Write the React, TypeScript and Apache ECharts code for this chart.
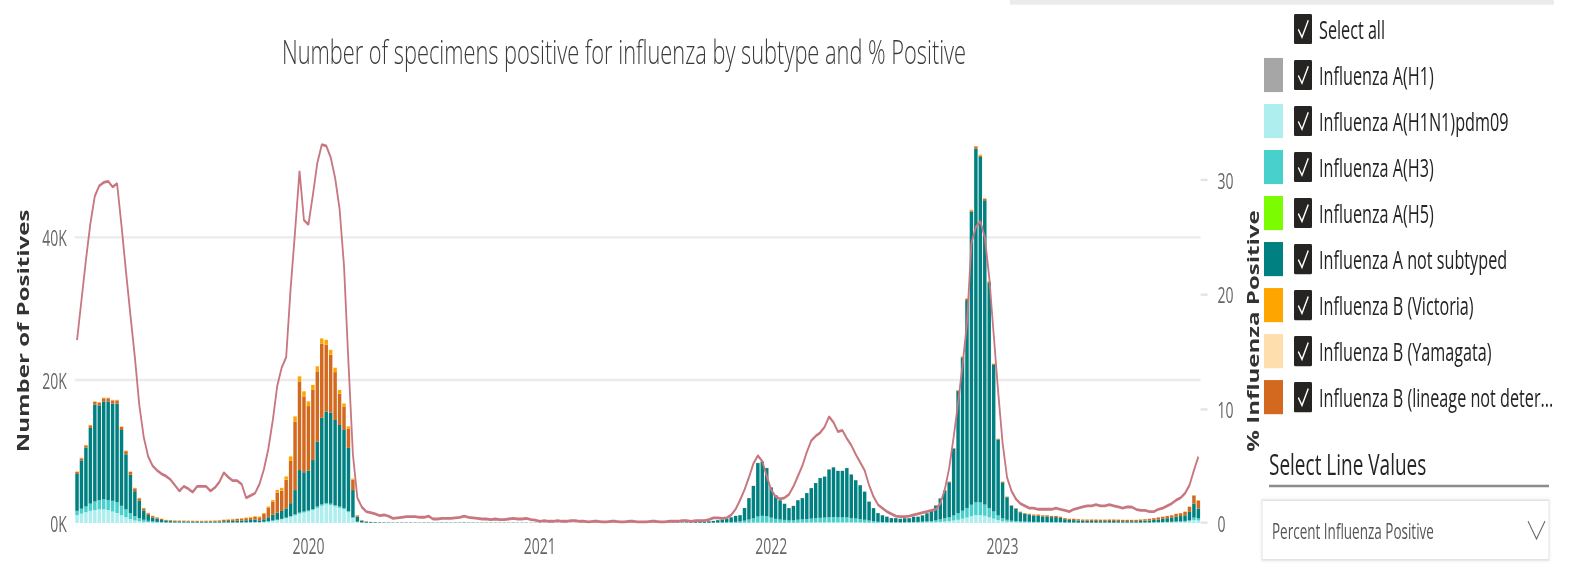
import React, { useEffect, useRef } from 'react';
import * as echarts from 'echarts';

// ---------------- data (thousands of positive specimens per week; line = % positive) ----------------
const FIRST_WEEK_UTC = Date.UTC(2019, 0, 5); // week ending 2019-01-05

const h1: number[] = [
  0,0,0,0,0,0,0,0,0,0, 0,0,0,0,0,0,0,0,0,0, 0,0,0,0,0,0,0,0,0,0, 0,0,0,0,0,0,0,0,0,0,
  0,0,0,0,0,0,0,0,0,0, 0,0,0,0,0,0,0,0,0,0, 0,0,0,0,0,0,0,0,0,0, 0,0,0,0,0,0,0,0,0,0,
  0,0,0,0,0,0,0,0,0,0, 0,0,0,0,0,0,0,0,0,0, 0,0,0,0,0,0,0,0,0,0, 0,0,0,0,0,0,0,0,0,0,
  0,0,0,0,0,0,0,0,0,0, 0,0,0,0,0,0,0,0,0,0, 0,0,0,0,0,0,0,0,0,0, 0,0,0,0,0,0,0,0,0,0,
  0,0,0,0,0,0,0,0,0,0, 0,0,0,0,0,0,0,0,0,0, 0,0,0,0,0,0,0,0,0,0, 0,0,0,0,0,0,0,0,0,0,
  0,0,0,0,0,0,0,0,0,0, 0,0,0,0,0,0,0,0,0,0, 0,0,0,0,0,0,0,0,0,0, 0,0,0,0,0,0,0,0,0,0,
  0,0,0,0,0,0,0,0,0,0, 0,0,0
];

const h1n1pdm09: number[] = [
  1.1,1.3,1.5,1.7,1.8,1.9,1.9,1.8,1.6,1.4,
  1.1,0.8,0.55,0.35,0.25,0.15,0.1,0.07,0.05,0.04,
  0.03,0.03,0.02,0.02,0.02,0.02,0.02,0.02,0.02,0.02,
  0.02,0.02,0.02,0.03,0.03,0.03,0.03,0.04,0.04,0.05,
  0.06,0.08,0.12,0.18,0.28,0.38,0.5,0.65,0.85,1.05,
  1.3,1.45,1.6,1.8,2.1,2.4,2.6,2.5,2.3,2.1,
  1.9,1.5,0.7,0.15,0.05,0.03,0.02,0.01,0.01,0.01,
  0.01,0.005,0.005,0.005,0.005,0,0,0,0,0,
  0,0,0,0,0,0,0,0,0,0,
  0,0,0,0,0,0,0,0,0,0,
  0,0,0,0,0,0,0,0,0,0,
  0,0,0,0,0,0,0,0,0,0,
  0,0,0,0,0,0,0,0,0,0,
  0,0,0,0,0,0,0,0,0,0,
  0,0.005,0.005,0.005,0.01,0.01,0.01,0.01,0.01,0.01,
  0.02,0.03,0.04,0.05,0.05,0.05,0.04,0.03,0.03,0.03,
  0.03,0.03,0.04,0.05,0.05,0.06,0.06,0.07,0.07,0.08,
  0.08,0.08,0.08,0.08,0.08,0.07,0.06,0.05,0.04,0.03,
  0.02,0.02,0.02,0.02,0.02,0.02,0.04,0.04,0.05,0.05,
  0.06,0.07,0.09,0.12,0.15,0.2,0.25,0.35,0.45,0.6,
  0.75,0.95,1.1,1.1,1.0,0.8,0.6,0.4,0.25,0.17,
  0.12,0.1,0.08,0.07,0.06,0.05,0.05,0.05,0.05,0.04,
  0.04,0.04,0.03,0.03,0.03,0.02,0.02,0.02,0.02,0.02,
  0.02,0.02,0.02,0.02,0.02,0.02,0.02,0.02,0.02,0.02,
  0.03,0.03,0.04,0.05,0.06,0.07,0.08,0.1,0.12,0.15,
  0.22,0.4,0.35
];

const h3: number[] = [
  0.6,0.7,0.8,1.0,1.2,1.3,1.4,1.4,1.5,1.5,
  1.3,1.1,0.85,0.6,0.45,0.3,0.2,0.15,0.1,0.08,
  0.05,0.04,0.04,0.04,0.04,0.04,0.03,0.03,0.03,0.03,
  0.03,0.03,0.03,0.04,0.04,0.04,0.05,0.05,0.06,0.07,
  0.08,0.04,0.05,0.06,0.07,0.08,0.08,0.1,0.12,0.15,
  0.15,0.15,0.15,0.15,0.2,0.2,0.2,0.2,0.2,0.2,
  0.2,0.15,0.1,0.03,0.02,0.01,0.01,0.01,0.005,0.005,
  0,0,0,0,0,0,0,0,0,0,
  0,0,0,0,0,0,0,0,0,0,
  0,0,0,0,0,0,0,0,0,0,
  0,0,0,0,0,0,0,0,0,0,
  0,0,0,0,0,0,0,0,0,0,
  0,0,0,0,0,0,0,0,0,0,
  0,0,0,0,0,0.005,0.005,0.01,0.01,0.01,
  0.015,0.02,0.03,0.04,0.05,0.07,0.09,0.12,0.15,0.2,
  0.3,0.45,0.6,0.85,0.95,0.9,0.7,0.55,0.45,0.4,
  0.32,0.35,0.42,0.45,0.5,0.55,0.6,0.65,0.68,0.72,
  0.75,0.72,0.7,0.7,0.62,0.55,0.48,0.4,0.3,0.22,
  0.15,0.12,0.1,0.08,0.08,0.07,0.06,0.07,0.09,0.1,
  0.12,0.15,0.18,0.25,0.35,0.45,0.55,0.7,0.9,1.1,
  1.35,1.6,1.75,1.75,1.6,1.3,1.0,0.65,0.4,0.28,
  0.2,0.17,0.13,0.12,0.11,0.1,0.1,0.09,0.09,0.08,
  0.08,0.07,0.05,0.04,0.04,0.03,0.03,0.03,0.03,0.03,
  0.03,0.03,0.03,0.03,0.03,0.03,0.03,0.03,0.03,0.03,
  0.04,0.04,0.05,0.06,0.07,0.08,0.09,0.11,0.12,0.14,
  0.2,0.35,0.3
];

const h5: number[] = [
  0,0,0,0,0,0,0,0,0,0, 0,0,0,0,0,0,0,0,0,0, 0,0,0,0,0,0,0,0,0,0, 0,0,0,0,0,0,0,0,0,0,
  0,0,0,0,0,0,0,0,0,0, 0,0,0,0,0,0,0,0,0,0, 0,0,0,0,0,0,0,0,0,0, 0,0,0,0,0,0,0,0,0,0,
  0,0,0,0,0,0,0,0,0,0, 0,0,0,0,0,0,0,0,0,0, 0,0,0,0,0,0,0,0,0,0, 0,0,0,0,0,0,0,0,0,0,
  0,0,0,0,0,0,0,0,0,0, 0,0,0,0,0,0,0,0,0,0, 0,0,0,0,0,0,0,0,0,0, 0,0,0,0,0,0,0,0,0,0,
  0,0,0,0,0,0,0,0,0,0, 0,0,0,0,0,0,0,0,0,0, 0,0,0,0,0,0,0,0,0,0, 0,0,0,0,0,0,0,0,0,0,
  0,0,0,0,0,0,0,0,0,0, 0,0,0,0,0,0,0,0,0,0, 0,0,0,0,0,0,0,0,0,0, 0,0,0,0,0,0,0,0,0,0,
  0,0,0,0,0,0,0,0,0,0, 0,0,0
];

const aNotSubtyped: number[] = [
  5.15,6.75,8.25,10.6,13.55,13.25,13.7,13.8,13.6,13.8,
  10.6,7.7,5.35,3.5,2.4,1.3,0.81,0.55,0.44,0.3,
  0.22,0.2,0.18,0.17,0.16,0.15,0.15,0.14,0.14,0.14,
  0.14,0.15,0.16,0.18,0.2,0.22,0.24,0.26,0.28,0.3,
  0.33,0.25,0.35,0.56,0.8,1.0,1.1,1.3,1.8,3.4,
  5.95,5.5,5.6,6.85,9.1,12.1,12.8,12.7,11.9,11.4,
  10.9,8.85,3.8,0.7,0.25,0.15,0.1,0.08,0.07,0.06,
  0.06,0.05,0.05,0.05,0.05,0.05,0.05,0.04,0.05,0.05,
  0.04,0.04,0.05,0.05,0.04,0.05,0.05,0.06,0.05,0.05,
  0.04,0.04,0.04,0.04,0.04,0.04,0.04,0.04,0.05,0.04,
  0.04,0.04,0.03,0.03,0.03,0.03,0.03,0.03,0.03,0.03,
  0.03,0.03,0.03,0.03,0.03,0.03,0.03,0.03,0.03,0.03,
  0.03,0.03,0.03,0.03,0.04,0.04,0.04,0.04,0.04,0.05,
  0.05,0.05,0.05,0.06,0.06,0.07,0.07,0.08,0.09,0.1,
  0.11,0.165,0.205,0.245,0.33,0.41,0.49,0.66,0.83,0.88,
  1.77,3.0,4.54,7.48,7.58,6.73,4.24,3.3,2.7,2.25,
  1.73,2.0,2.72,2.98,3.63,4.27,4.92,5.56,5.73,6.68,
  6.95,6.48,6.5,6.9,6.08,5.36,4.74,3.93,2.64,1.83,
  1.21,0.94,0.76,0.58,0.58,0.49,0.57,0.56,0.73,0.72,
  0.88,1.14,1.47,2.06,2.92,3.86,4.9,9.33,17.09,21.41,
  29.07,40.97,49.53,48.33,42.52,31.47,20.52,10.6,5.03,3.15,
  2.08,1.73,1.29,1.1,1.01,0.87,0.87,0.78,0.78,0.7,
  0.7,0.61,0.45,0.36,0.33,0.3,0.25,0.25,0.23,0.23,
  0.21,0.21,0.23,0.23,0.21,0.2,0.2,0.2,0.2,0.23,
  0.26,0.29,0.34,0.39,0.44,0.52,0.55,0.66,0.73,0.78,
  1.13,1.97,1.38
];

const bVictoria: number[] = [
  0.05,0.05,0.05,0.05,0.05,0.05,0.05,0.05,0.05,0.05,
  0.05,0.05,0.05,0.05,0.05,0.05,0.04,0.03,0.03,0.03,
  0.02,0.02,0.02,0.02,0.02,0.02,0.02,0.02,0.02,0.02,
  0.02,0.03,0.03,0.04,0.04,0.05,0.05,0.06,0.07,0.08,
  0.1,0.1,0.13,0.2,0.25,0.34,0.37,0.45,0.63,0.7,
  0.7,0.7,0.65,0.7,0.7,0.7,0.7,0.7,0.6,0.5,
  0.4,0.3,0.15,0.05,0.02,0.01,0.01,0.005,0,0,
  0,0,0,0,0,0,0,0,0,0,
  0,0,0,0,0,0,0,0,0,0,
  0,0,0,0,0,0,0,0,0,0,
  0,0,0,0,0,0,0,0,0,0,
  0,0,0,0,0,0,0,0,0,0,
  0,0,0,0,0,0,0,0,0,0,
  0,0,0,0,0,0,0,0,0,0,
  0,0,0,0,0,0,0,0,0,0,
  0,0,0,0,0,0,0,0,0,0,
  0,0,0,0,0,0,0,0,0,0,
  0,0,0,0,0,0,0,0,0,0,
  0,0,0,0,0,0,0.01,0.01,0.01,0.01,
  0.01,0.01,0.02,0.02,0.03,0.03,0.03,0.04,0.06,0.07,
  0.08,0.1,0.12,0.12,0.1,0.08,0.06,0.05,0.04,0.03,
  0.03,0.03,0.03,0.03,0.03,0.03,0.03,0.03,0.03,0.03,
  0.03,0.03,0.02,0.02,0.02,0.02,0.02,0.02,0.02,0.02,
  0.02,0.02,0.02,0.02,0.02,0.02,0.02,0.02,0.02,0.02,
  0.02,0.02,0.02,0.02,0.03,0.03,0.03,0.03,0.03,0.03,
  0.05,0.08,0.07
];

const bYamagata: number[] = [
  0.02,0.02,0.02,0.02,0.02,0.02,0.02,0.02,0.02,0.02,
  0.02,0.02,0.02,0.02,0.02,0.02,0.02,0.02,0.02,0.02,
  0.02,0.02,0.02,0.02,0.02,0.02,0.02,0.02,0.02,0.02,
  0.02,0.02,0.02,0.02,0.02,0.02,0.02,0.02,0.02,0.02,
  0.02,0.01,0.01,0.01,0.01,0.01,0.01,0.01,0.01,0.01,
  0.01,0.01,0.01,0.01,0.01,0.01,0.01,0.01,0.01,0.01,
  0.01,0.01,0.01,0,0,0,0,0,0,0,
  0,0,0,0,0,0,0,0,0,0, 0,0,0,0,0,0,0,0,0,0, 0,0,0,0,0,0,0,0,0,0,
  0,0,0,0,0,0,0,0,0,0, 0,0,0,0,0,0,0,0,0,0, 0,0,0,0,0,0,0,0,0,0,
  0,0,0,0,0,0,0,0,0,0, 0,0,0,0,0,0,0,0,0,0, 0,0,0,0,0,0,0,0,0,0,
  0,0,0,0,0,0,0,0,0,0, 0,0,0,0,0,0,0,0,0,0, 0,0,0,0,0,0,0,0,0,0,
  0,0,0,0,0,0,0,0,0,0, 0,0,0,0,0,0,0,0,0,0, 0,0,0,0,0,0,0,0,0,0,
  0,0,0,0,0,0,0,0,0,0, 0,0,0,0,0,0,0,0,0,0, 0,0,0,0,0,0,0,0,0,0,
  0,0,0
];

const bLineageNotDetermined: number[] = [
  0.3,0.3,0.3,0.35,0.4,0.4,0.45,0.45,0.45,0.45,
  0.45,0.45,0.4,0.4,0.35,0.3,0.25,0.2,0.18,0.15,
  0.12,0.12,0.1,0.1,0.1,0.1,0.1,0.1,0.1,0.11,
  0.12,0.13,0.15,0.18,0.2,0.22,0.24,0.27,0.3,0.33,
  0.38,0.43,0.75,1.3,1.8,2.8,2.85,4.0,5.9,9.6,
  12.4,10.6,9.0,9.8,9.8,10.4,9.3,8.1,6.7,4.4,
  3.3,2.7,1.45,0.17,0.06,0.03,0.02,0.02,0.02,0.01,
  0.01,0.01,0.01,0.01,0.01,0.01,0.01,0.01,0.01,0.01,
  0.01,0.01,0.01,0.01,0.01,0.01,0.01,0.01,0.01,0.01,
  0.01,0.01,0.01,0.01,0.01,0.01,0.01,0.01,0.01,0.01,
  0.01,0.01,0.01,0.01,0.01,0.01,0.01,0.01,0.01,0.01,
  0.01,0.01,0.01,0.01,0.01,0.01,0.01,0.01,0.01,0.01,
  0.01,0.01,0.01,0.01,0.01,0.01,0.01,0.01,0.01,0.01,
  0.01,0.01,0.01,0.01,0.01,0.01,0.01,0.01,0.01,0.01,
  0.01,0.01,0.01,0.01,0.01,0.01,0.01,0.01,0.01,0.01,
  0.01,0.02,0.02,0.02,0.02,0.02,0.02,0.02,0.02,0.02,
  0.02,0.02,0.02,0.02,0.02,0.02,0.02,0.02,0.02,0.02,
  0.02,0.02,0.02,0.02,0.02,0.02,0.02,0.02,0.02,0.02,
  0.02,0.02,0.02,0.02,0.02,0.02,0.02,0.02,0.02,0.02,
  0.03,0.03,0.04,0.05,0.05,0.06,0.07,0.08,0.1,0.12,
  0.15,0.18,0.2,0.2,0.18,0.15,0.12,0.1,0.08,0.07,
  0.07,0.07,0.07,0.08,0.09,0.15,0.15,0.15,0.15,0.15,
  0.15,0.15,0.15,0.15,0.18,0.18,0.18,0.18,0.2,0.2,
  0.2,0.2,0.2,0.2,0.2,0.18,0.18,0.18,0.18,0.2,
  0.2,0.22,0.25,0.28,0.3,0.3,0.35,0.4,0.4,0.5,
  0.7,1.1,1.1
];

const percentPositive: number[] = [
  16.0,19.5,23.0,26.2,28.6,29.5,29.8,29.9,29.4,29.7,
  26.0,22.0,18.2,14.5,10.3,7.5,5.8,5.0,4.6,4.3,
  4.1,3.8,3.3,2.8,3.2,3.0,2.7,3.2,3.2,3.2,
  2.8,3.1,3.6,4.4,4.0,3.7,3.7,3.4,2.2,2.4,
  2.6,3.4,4.7,6.5,9.0,12.0,13.6,14.5,20.5,25.5,
  30.8,26.5,26.1,28.7,31.5,33.1,33.0,32.0,30.2,27.5,
  22.5,14.0,6.0,2.2,1.4,1.0,0.9,0.8,0.65,0.7,
  0.6,0.4,0.45,0.5,0.55,0.55,0.55,0.5,0.5,0.6,
  0.35,0.35,0.4,0.4,0.4,0.45,0.5,0.6,0.5,0.45,
  0.4,0.35,0.35,0.3,0.35,0.3,0.3,0.35,0.4,0.35,
  0.35,0.4,0.3,0.25,0.15,0.2,0.15,0.15,0.2,0.15,
  0.15,0.2,0.2,0.15,0.15,0.1,0.15,0.15,0.1,0.1,
  0.15,0.15,0.1,0.1,0.15,0.15,0.1,0.1,0.1,0.15,
  0.15,0.1,0.1,0.15,0.15,0.15,0.2,0.2,0.15,0.2,
  0.2,0.2,0.3,0.45,0.45,0.4,0.45,0.7,1.2,2.0,
  2.9,4.0,5.2,5.9,5.4,4.1,2.9,2.3,2.1,2.2,
  2.5,3.2,4.1,5.0,6.2,7.2,7.6,7.9,8.4,9.3,
  8.8,8.0,8.1,7.4,6.8,6.0,5.3,4.6,3.3,2.3,
  1.6,1.3,1.0,0.8,0.6,0.55,0.55,0.6,0.7,0.8,
  0.9,1.0,1.1,1.2,1.7,2.9,4.8,7.5,10.5,13.8,
  17.5,24.5,25.9,26.4,25.0,21.5,16.5,11.5,7.0,4.0,
  2.8,2.1,1.7,1.5,1.3,1.3,1.2,1.2,1.2,1.2,
  1.3,1.2,1.1,1.0,1.2,1.3,1.4,1.5,1.5,1.6,
  1.5,1.5,1.6,1.5,1.4,1.3,1.4,1.4,1.2,1.1,
  1.1,1.0,1.0,1.2,1.3,1.5,1.7,2.0,2.2,2.6,
  3.3,4.6,5.8
];

const legendNames: string[] = [
  'Influenza A(H1)',
  'Influenza A(H1N1)pdm09',
  'Influenza A(H3)',
  'Influenza A(H5)',
  'Influenza A not subtyped',
  'Influenza B (Victoria)',
  'Influenza B (Yamagata)',
  'Influenza B (lineage not determined)',
];
const legendShown: string[] = [
  'Influenza A(H1)',
  'Influenza A(H1N1)pdm09',
  'Influenza A(H3)',
  'Influenza A(H5)',
  'Influenza A not subtyped',
  'Influenza B (Victoria)',
  'Influenza B (Yamagata)',
  'Influenza B (lineage not deter...',
];
const legendColors: string[] = ['#A6A6A6', '#AEEEEE', '#48D1CC', '#7CFC00', '#008080', '#FFA500', '#FFDEAD', '#D2691E'];
const legendData: number[][] = [h1, h1n1pdm09, h3, h5, aNotSubtyped, bVictoria, bYamagata, bLineageNotDetermined];
// stacking order seen in the picture (bottom -> top)
const stackOrder: number[] = [0, 1, 2, 3, 4, 7, 6, 5];

const TITLE = 'Number of specimens positive for influenza by subtype and % Positive';
const LINE_NAME = 'Percent Influenza Positive';

// ---------------- layout ----------------
const W = 1577;
const H_REAL = 563;
const H = 363; // logical height; the page is stretched vertically like the reference
const FONT = '"Open Sans", "Noto Sans", "DejaVu Sans", sans-serif';
const DAY = 86400000;

const weeks: string[] = percentPositive.map((_, i) => new Date(FIRST_WEEK_UTC + i * 7 * DAY).toISOString().slice(0, 10));
const yearLabelAt: string[] = weeks.map((w) => {
  const t = Date.parse(w + 'T00:00:00Z');
  const y = new Date(t).getUTCFullYear();
  for (const yy of [y, y + 1]) {
    if (Math.abs(t - Date.UTC(yy, 0, 1)) <= 3.5 * DAY) return String(yy);
  }
  return '';
});

function buildGraphics(): any[] {
  const g: any[] = [];
  const ink = '#252423';
  g.push({ type: 'rect', silent: true, shape: { x: 1010, y: 0, width: 544, height: 3 }, style: { fill: '#ebebeb' } });
  const rowY = (k: number) => 18.7 + 29.67 * k;
  const rows = ['Select all', ...legendShown];
  rows.forEach((label, k) => {
    const c = rowY(k);
    if (k > 0) {
      g.push({ type: 'rect', silent: true, shape: { x: 1264, y: c - 11, width: 19, height: 22 }, style: { fill: legendColors[k - 1] } });
    }
    g.push({ type: 'rect', silent: true, shape: { x: 1294, y: c - 9.7, width: 18, height: 19.4, r: 1 }, style: { fill: ink } });
    g.push({
      type: 'polyline', silent: true,
      shape: { points: [[1298.3, c + 0.3], [1302, c + 5.3], [1308.3, c - 5.6]] },
      style: { stroke: '#ffffff', lineWidth: 1.3, fill: 'none' },
    });
    g.push({ type: 'text', silent: true, x: 1319, y: c, style: { text: label, fill: ink, fontSize: 16.2, fontFamily: FONT, verticalAlign: 'middle' } });
  });
  g.push({ type: 'text', silent: true, x: 1269, y: 299.2, style: { text: 'Select Line Values', fill: ink, fontSize: 19, fontFamily: FONT, verticalAlign: 'middle' } });
  g.push({ type: 'rect', silent: true, shape: { x: 1269, y: 312.6, width: 280, height: 1.5 }, style: { fill: '#8c8c8c' } });
  g.push({
    type: 'rect', silent: true, shape: { x: 1262, y: 322.5, width: 287, height: 38.5 },
    style: { fill: '#ffffff', stroke: '#e3e3e3', lineWidth: 1, shadowBlur: 3, shadowColor: 'rgba(0,0,0,0.08)' },
  });
  g.push({ type: 'text', silent: true, x: 1272, y: 342.4, style: { text: LINE_NAME, fill: '#555555', fontSize: 13.5, fontFamily: FONT, verticalAlign: 'middle' } });
  g.push({
    type: 'polyline', silent: true,
    shape: { points: [[1528, 336], [1536.5, 347.5], [1545, 336]] },
    style: { stroke: '#666666', lineWidth: 1, fill: 'none' },
  });
  return g;
}

function buildOption(): any {
  const barSeries = stackOrder.map((idx) => ({
    type: 'bar',
    name: legendNames[idx],
    data: legendData[idx],
    stack: 'positives',
    barCategoryGap: '22%',
    itemStyle: { color: legendColors[idx] },
    emphasis: { disabled: true },
    silent: true,
  }));
  return {
    animation: false,
    textStyle: { fontFamily: FONT },
    title: {
      text: TITLE,
      left: 624,
      top: 22,
      padding: 0,
      textAlign: 'center',
      textStyle: { fontSize: 21.8, fontWeight: 300, color: '#3a3a3a', fontFamily: FONT },
    },
    grid: { left: 74.8, right: 376.4, top: 89.6, bottom: 25.8, containLabel: false },
    xAxis: {
      type: 'category',
      data: weeks,
      boundaryGap: true,
      axisLine: { show: false },
      axisTick: { show: false },
      splitLine: { show: false },
      axisLabel: {
        interval: (index: number) => yearLabelAt[index] !== '',
        formatter: (_v: string, index: number) => yearLabelAt[index],
        color: '#666666',
        fontSize: 14,
        margin: 7,
        fontFamily: FONT,
      },
    },
    yAxis: [
      {
        type: 'value',
        position: 'left',
        min: 0,
        max: 53.7,
        interval: 20,
        name: 'Number of Positives',
        nameLocation: 'middle',
        nameRotate: 90,
        nameGap: 34,
        nameTextStyle: { fontSize: 15.5, fontWeight: 'bold', color: '#333333', fontFamily: FONT },
        axisLine: { show: false },
        axisTick: { show: false },
        axisLabel: {
          formatter: (v: number) => (v % 20 === 0 ? v + 'K' : ''),
          showMaxLabel: false,
          color: '#666666',
          fontSize: 14,
          margin: 8,
          fontFamily: FONT,
        },
        splitLine: { show: true, showMinLine: false, showMaxLine: false, lineStyle: { color: '#ebebeb', width: 1.5 } },
      },
      {
        type: 'value',
        position: 'right',
        min: 0,
        max: 33.6,
        interval: 10,
        name: '% Influenza Positive',
        nameLocation: 'middle',
        nameRotate: 90,
        nameGap: 39,
        nameTextStyle: { fontSize: 15.5, fontWeight: 'bold', color: '#333333', fontFamily: FONT },
        axisLine: { show: false },
        axisTick: { show: true, length: 7, customValues: [0, 10, 20, 30], lineStyle: { color: '#e3e3e3', width: 1.5 } },
        axisLabel: {
          formatter: (v: number) => (v % 10 === 0 ? String(v) : ''),
          showMaxLabel: false,
          color: '#666666',
          fontSize: 14,
          margin: 17,
          fontFamily: FONT,
        },
        splitLine: { show: false },
      },
    ],
    series: [
      ...barSeries,
      {
        type: 'line',
        name: LINE_NAME,
        yAxisIndex: 1,
        data: percentPositive,
        symbol: 'none',
        showSymbol: false,
        lineStyle: { color: '#C8767F', width: 1.8 },
        emphasis: { disabled: true },
        silent: true,
        z: 5,
      },
    ],
    graphic: buildGraphics(),
  };
}

export default function App() {
  const ref = useRef<HTMLDivElement>(null);
  useEffect(() => {
    if (!ref.current) return;
    const chart = echarts.init(ref.current, null, { renderer: 'svg' });
    chart.setOption(buildOption());
    return () => chart.dispose();
  }, []);
  return (
    <div
      ref={ref}
      style={{
        position: 'fixed',
        left: 0,
        top: 0,
        width: W,
        height: H,
        background: '#ffffff',
        transform: `scaleY(${H_REAL / H})`,
        transformOrigin: '0 0',
      }}
    />
  );
}
